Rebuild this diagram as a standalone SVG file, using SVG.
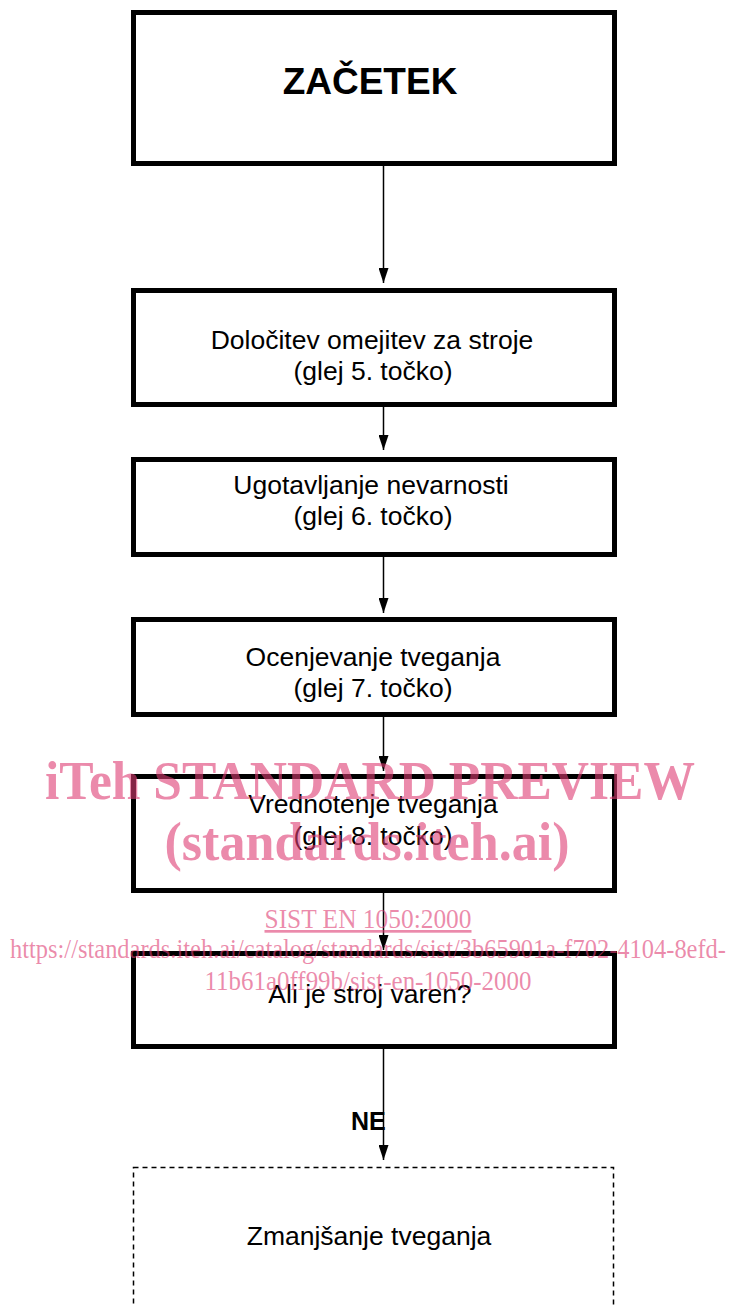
<svg xmlns="http://www.w3.org/2000/svg" width="729" height="1307" viewBox="0 0 729 1307">
<style>
.box{fill:#fff;stroke:#000;stroke-width:5}
.dbox{fill:#fff;stroke:#000;stroke-width:1.5;stroke-dasharray:5 4}
.t{font-family:"Liberation Sans",Arial,sans-serif;font-size:26.5px;fill:#000;text-anchor:middle}
.b{font-family:"Liberation Sans",Arial,sans-serif;font-weight:bold;fill:#000}
.conn{stroke:#000;stroke-width:1.5;fill:none;marker-end:url(#ah)}
.wm{font-family:"Liberation Serif","Times New Roman",serif;fill:rgb(222,60,115);fill-opacity:0.6;text-anchor:middle}
</style>
<defs>
<marker id="ah" markerUnits="userSpaceOnUse" markerWidth="15" markerHeight="10" refX="15" refY="5" orient="auto">
<path d="M0,0 L15,5 L0,10 z" fill="#000"/>
</marker>
</defs>
<rect width="729" height="1307" fill="#fff"/>
<g id="connectors">
<line class="conn" x1="383.5" y1="166" x2="383.5" y2="283"/>
<line class="conn" x1="383.5" y1="407" x2="383.5" y2="450"/>
<line class="conn" x1="383.5" y1="557" x2="383.5" y2="613"/>
<line class="conn" x1="383.5" y1="717" x2="383.5" y2="771"/>
<line class="conn" x1="383.5" y1="893" x2="383.5" y2="950"/>
<line class="conn" x1="383.5" y1="1049" x2="383.5" y2="1160"/>
<text class="b" x="351" y="1130" font-size="25">NE</text>
</g>
<g id="start">
<rect class="box" x="133.5" y="12.5" width="481" height="151"/>
<text class="b" x="370" y="94" font-size="37" text-anchor="middle">ZAČETEK</text>
</g>
<g id="limits">
<rect class="box" x="133.5" y="290.5" width="481" height="114"/>
<text class="t" x="372" y="349">Določitev omejitev za stroje</text>
<text class="t" x="373" y="380">(glej 5. točko)</text>
</g>
<g id="hazards">
<rect class="box" x="133.5" y="459.5" width="481" height="95"/>
<text class="t" x="371" y="494">Ugotavljanje nevarnosti</text>
<text class="t" x="373" y="525">(glej 6. točko)</text>
</g>
<g id="estimation">
<rect class="box" x="133.5" y="619.5" width="481" height="95"/>
<text class="t" x="373" y="666">Ocenjevanje tveganja</text>
<text class="t" x="373" y="697">(glej 7. točko)</text>
</g>
<g id="evaluation">
<rect class="box" x="133.5" y="776.5" width="481" height="114"/>
<text class="t" x="373" y="813">Vrednotenje tveganja</text>
<text class="t" x="373" y="845">(glej 8. točko)</text>
</g>
<g id="safe">
<rect class="box" x="133.5" y="953.5" width="481" height="93"/>
<text class="t" x="370" y="1003">Ali je stroj varen?</text>
</g>
<g id="reduction">
<rect class="dbox" x="133.5" y="1167.5" width="480" height="200"/>
<text class="t" x="369" y="1245">Zmanjšanje tveganja</text>
</g>
<g id="watermark">
<text class="wm" x="370" y="799" font-size="54" font-weight="bold" textLength="650" lengthAdjust="spacingAndGlyphs">iTeh STANDARD PREVIEW</text>
<text class="wm" x="367" y="860" font-size="54" font-weight="bold" textLength="405" lengthAdjust="spacingAndGlyphs">(standards.iteh.ai)</text>
<text class="wm" x="368" y="928" font-size="27" text-decoration="underline" textLength="207" lengthAdjust="spacingAndGlyphs">SIST EN 1050:2000</text>
<text class="wm" x="368" y="958" font-size="27" textLength="716" lengthAdjust="spacingAndGlyphs">https://standards.iteh.ai/catalog/standards/sist/3b65901a-f702-4104-8efd-</text>
<text class="wm" x="368" y="990" font-size="27" textLength="327" lengthAdjust="spacingAndGlyphs">11b61a0ff99b/sist-en-1050-2000</text>
</g>
</svg>
